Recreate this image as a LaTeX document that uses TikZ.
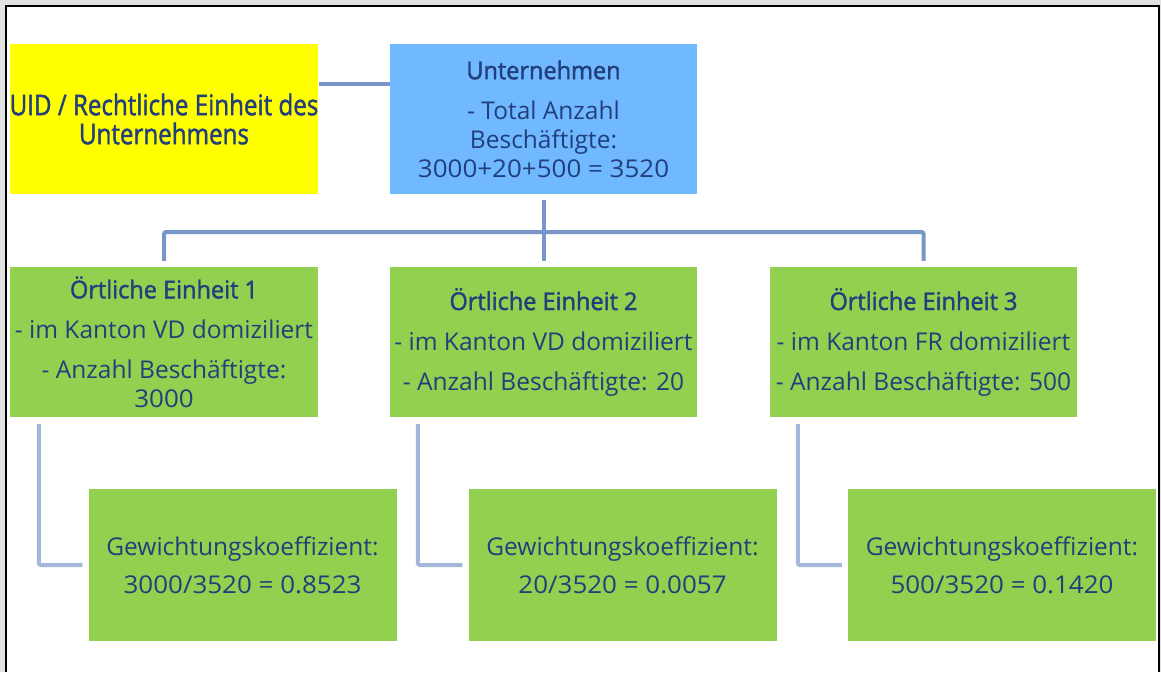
\documentclass[tikz,border=0pt]{standalone}
\usepackage{fontspec}
\usepackage{graphicx}
\setmainfont{Open Sans}
\newfontfamily\semib[FakeBold=1.6]{Open Sans}
\definecolor{navy}{HTML}{223F7C}
\definecolor{yel}{HTML}{FFFF00}
\definecolor{sky}{HTML}{70B8FF}
\definecolor{grn}{HTML}{92D050}
\definecolor{connA}{HTML}{7797C9}
\definecolor{connB}{HTML}{A3B7DA}
\definecolor{bgray}{HTML}{E2E2E2}
\newcommand\ttl[1]{\scalebox{0.96}[1]{\semib #1}}
\newcommand\numl[1]{\scalebox{1.06}[1]{#1}}
\tikzset{
  box/.style={rectangle, inner sep=0pt, minimum width=307pt, minimum height=150pt,
    text=navy, align=center, font=\fontsize{24.5}{29}\selectfont},
  conn/.style={draw=connA, line width=4pt, rounded corners=2pt},
  elbow/.style={draw=connB, line width=4pt, rounded corners=2pt},
}
\begin{document}
\begin{tikzpicture}[x=1pt,y=-1pt]
\useasboundingbox (0,0) rectangle (1161,672);
\fill[bgray] (0,0) rectangle (1161,672);
\fill[white] (7,7) rectangle (1158,672);
\draw[black, line width=2pt] (6,672) -- (6,6) -- (1159,6) -- (1159,672);

\node[box, fill=yel, minimum width=308pt] (uid) at (164,119)
  {\scalebox{0.848}[1]{\fontsize{28.5}{29}\semib UID / Rechtliche Einheit des}\\
   \scalebox{0.848}[1]{\fontsize{28.5}{29}\semib Unternehmens}};
\node[box, fill=sky] (unt) at (543.5,119)
  {\ttl{Unternehmen}\\[11pt] - Total Anzahl\\ Beschäftigte:\\ \numl{3000+20+500 = 3520}};

\node[box, fill=grn, minimum width=308pt] (g1) at (164,342)
  {\ttl{Örtliche Einheit 1}\\[11pt] - im Kanton VD domiziliert\\[11pt] - Anzahl Beschäftigte:\\ \numl{3000}};
\node[box, fill=grn] (g2) at (543.5,342)
  {\ttl{Örtliche Einheit 2}\\[11pt] - im Kanton VD domiziliert\\[11pt] - Anzahl Beschäftigte: 20};
\node[box, fill=grn] (g3) at (923.5,342)
  {\ttl{Örtliche Einheit 3}\\[11pt] - im Kanton FR domiziliert\\[11pt] - Anzahl Beschäftigte: 500};

\node[box, fill=grn, minimum width=308pt, minimum height=152pt] (w1) at (242.5,565)
  {Gewichtungskoeffizient:\\[9pt] \numl{3000/3520 = 0.8523}};
\node[box, fill=grn, minimum width=308pt, minimum height=152pt] (w2) at (622.5,565)
  {Gewichtungskoeffizient:\\[9pt] \numl{20/3520 = 0.0057}};
\node[box, fill=grn, minimum width=308pt, minimum height=152pt] (w3) at (1002,565)
  {Gewichtungskoeffizient:\\[9pt] \numl{500/3520 = 0.1420}};

\coordinate (bar) at (543.5,232);
\draw[conn] ([yshift=-40pt]uid.north east) -- ([yshift=-40pt]unt.north west);
\draw[conn] ([yshift=6pt]g1.north) |- (bar) -| ([yshift=6pt]g3.north);
\draw[conn] ([yshift=-6pt]unt.south) -- ([yshift=6pt]g2.north);

\draw[elbow] ([xshift=29pt,yshift=-7pt]g1.south west) |- ([xshift=-6pt]w1.west);
\draw[elbow] ([xshift=28pt,yshift=-7pt]g2.south west) |- ([xshift=-6pt]w2.west);
\draw[elbow] ([xshift=28pt,yshift=-7pt]g3.south west) |- ([xshift=-6pt]w3.west);
\end{tikzpicture}
\end{document}
